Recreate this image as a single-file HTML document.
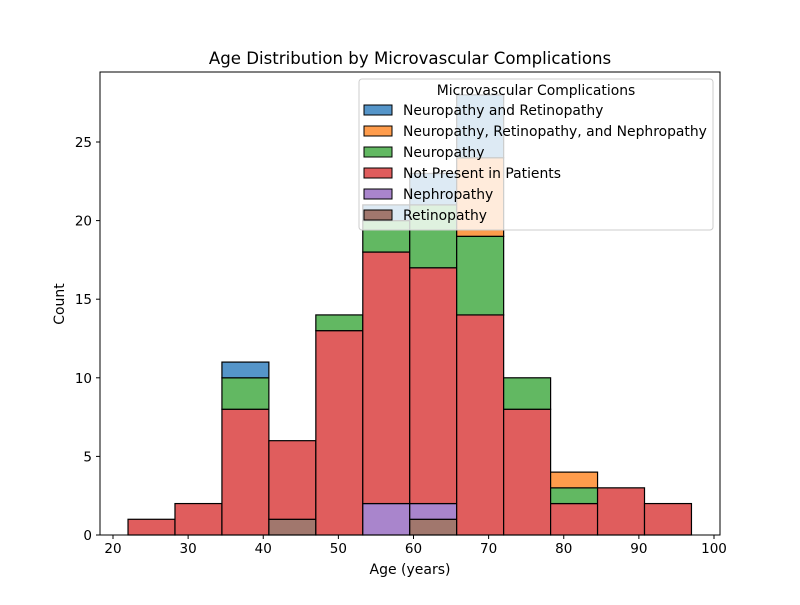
<!DOCTYPE html>
<html><head><meta charset="utf-8"><style>
body{margin:0;background:#fff;font-family:"Liberation Sans","DejaVu Sans",sans-serif}
</style></head><body>
<svg id="c" width="800" height="600" xmlns="http://www.w3.org/2000/svg" font-family="DejaVu Sans, Liberation Sans, sans-serif"></svg>
<script>
const binStarts=[22,28.25,34.5,40.75,47,53.25,59.5,65.75,72,78.25,84.5,90.75];
const binWidth=6.25;
const seriesNames=["Retinopathy","Nephropathy","Not Present in Patients","Neuropathy","Neuropathy, Retinopathy, and Nephropathy","Neuropathy and Retinopathy"];
const retinopathy=[0,0,0,1,0,0,1,0,0,0,0,0];
const nephropathy=[0,0,0,0,0,2,1,0,0,0,0,0];
const notPresent=[1,2,8,5,13,16,15,14,8,2,3,2];
const neuropathy=[0,0,2,0,1,2,4,5,2,1,0,0];
const nrn=[0,0,0,0,0,0,0,5,0,1,0,0];
const neuroRetino=[0,0,1,0,0,1,2,4,0,0,0,0];
const xTicks=[20,30,40,50,60,70,80,90,100];
const yTicks=[0,5,10,15,20,25];
const colors=["#a1776d","#a985cc","#e05d5d","#62b862","#fe9c4c","#5595c9"];
const series=[retinopathy,nephropathy,notPresent,neuropathy,nrn,neuroRetino];
const L=100,R=720,T=72,B=535;
const X=v=>113+(v-20)*(714-113)/80;
const Y=v=>B-v*(B-142)/25;
const svg=document.getElementById('c');
const NS="http://www.w3.org/2000/svg";
function mk(t,a,p){const e=document.createElementNS(NS,t);for(const k in a)e.setAttribute(k,a[k]);(p||svg).appendChild(e);return e;}
const title=mk('text',{x:410,y:64,'text-anchor':'middle','font-size':16.6});title.textContent="Age Distribution by Microvascular Complications";


const bars=mk('g',{});


binStarts.forEach((s,i)=>{let base=0;series.forEach((arr,j)=>{const v=arr[i];if(v>0){const r=mk('rect',{x:X(s),y:Y(base+v),width:X(s+binWidth)-X(s),height:Y(base)-Y(base+v),fill:colors[j],stroke:'#000','stroke-width':1.2},bars);

}base+=v;});});
mk('rect',{x:L,y:T,width:R-L,height:B-T,fill:'none',stroke:'#000','stroke-width':1});
xTicks.forEach(t=>{mk('line',{x1:X(t),x2:X(t),y1:B,y2:B+4,stroke:'#000'});const tx=mk('text',{x:X(t),y:B+18,'text-anchor':'middle','font-size':13.5});tx.textContent=t;

});
yTicks.forEach(t=>{mk('line',{x1:L-4,x2:L,y1:Y(t),y2:Y(t),stroke:'#000'});const tx=mk('text',{x:L-8,y:Y(t)+5,'text-anchor':'end','font-size':13.5});tx.textContent=t;

});
const xl=mk('text',{x:410,y:574,'text-anchor':'middle','font-size':14});xl.textContent="Age (years)";


const yl=mk('text',{x:64,y:304,'text-anchor':'middle','font-size':14,transform:'rotate(-90 64 304)'});yl.textContent="Count";


const lg=mk('g',{});


mk('rect',{x:359,y:79,width:354,height:151,rx:3,fill:'#fff','fill-opacity':0.8,stroke:'#ccc'},lg);
const lt=mk('text',{x:536,y:95,'text-anchor':'middle','font-size':13.9},lg);lt.textContent="Microvascular Complications";
const order=[5,4,3,2,1,0];
order.forEach((j,k)=>{const y=105+k*21;mk('rect',{x:364,y:y,width:28,height:10,fill:colors[j],stroke:'#000'},lg);const t=mk('text',{x:403,y:y+10,'font-size':13.9},lg);t.textContent=seriesNames[j];

});
</script>
</body></html>
